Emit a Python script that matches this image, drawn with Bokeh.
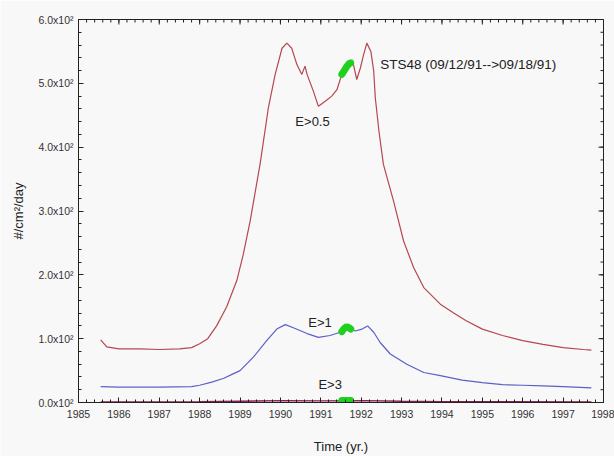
import numpy as np
from bokeh.plotting import figure
from bokeh.models import Range1d, SingleIntervalTicker, CustomJSTickFormatter
from bokeh.core.properties import value
from bokeh.embed import file_html
from bokeh.resources import INLINE

# Integral flux time series, #/cm^2/day, by energy threshold
t_e05 = [1985.55, 1985.70, 1986.00, 1986.50, 1987.00, 1987.50, 1987.80, 1988.00,
         1988.20, 1988.42, 1988.67, 1988.92, 1989.08, 1989.25, 1989.50, 1989.70,
         1989.87, 1990.04, 1990.16, 1990.28, 1990.41, 1990.53, 1990.61, 1990.66,
         1990.82, 1990.94, 1991.11, 1991.27, 1991.40, 1991.52, 1991.62, 1991.73,
         1991.81, 1991.89, 1991.98, 1992.06, 1992.14, 1992.24, 1992.31, 1992.35,
         1992.44, 1992.55, 1992.80, 1993.05, 1993.30, 1993.55, 1993.96, 1994.30,
         1994.60, 1995.00, 1995.50, 1996.00, 1996.50, 1997.00, 1997.50, 1997.70]
f_e05 = [98, 87, 84, 84, 83, 84, 86, 92,
         100, 120, 150, 191, 232, 284, 375, 461,
         514, 555, 563, 555, 529, 514, 527, 514,
         487, 464, 472, 480, 490, 514, 524, 532,
         529, 506, 524, 545, 563, 550, 519, 477,
         425, 373, 316, 253, 211, 180, 154, 140,
         128, 115, 105, 97, 91, 86, 83, 82]

t_e1 = [1985.55, 1986.00, 1987.00, 1987.80, 1988.00, 1988.30, 1988.60, 1988.80,
        1989.00, 1989.33, 1989.66, 1989.91, 1990.12, 1990.32, 1990.66, 1990.94,
        1991.23, 1991.48, 1991.65, 1991.85, 1992.02, 1992.16, 1992.31, 1992.47,
        1992.72, 1993.13, 1993.55, 1993.96, 1994.50, 1995.00, 1995.50, 1996.00,
        1996.50, 1997.00, 1997.70]
f_e1 = [25, 24, 24, 25, 27, 32, 38, 44,
        50, 71, 97, 115, 122, 117, 108, 102,
        105, 110, 119, 112, 115, 120, 110, 94,
        76, 60, 47, 42, 35, 31, 28, 27,
        26, 25, 23]

t_e3 = [1985.55, 1988.00, 1989.00, 1990.10, 1991.00, 1992.10, 1993.00, 1994.00, 1997.70]
f_e3 = [1.0, 1.2, 2.0, 3.0, 2.6, 3.0, 2.0, 1.3, 1.0]

# STS48 flight window (09/12/91 -> 09/18/91) marked on each curve
t_sts = [1991.52, 1991.58, 1991.64, 1991.70, 1991.74]
f_sts_e05 = [514, 520, 526, 531, 532]
f_sts_e1 = [111, 116, 119, 117, 115]
f_sts_e3 = [3, 3, 3, 3, 3]

sts_label = "STS48 (09/12/91-->09/18/91)"
sts_label_x = 1992.47
sts_label_y = 530
energy_labels = ["E>0.5", "E>1", "E>3"]
energy_label_x = [1990.37, 1990.69, 1990.94]
energy_label_y = [440, 125, 28]

X0, X1, Y0, Y1 = 1985, 1998, 0, 600
FONT = "Liberation Sans"
BG = "#f8f8f8"
INK = "#222222"

p = figure(width=614, height=456, x_range=Range1d(X0, X1), y_range=Range1d(Y0, Y1),
           output_backend="svg", toolbar_location=None,
           min_border_left=78, min_border_right=11, min_border_top=19, min_border_bottom=54)
p.background_fill_color = BG
p.border_fill_color = BG
p.outline_line_color = INK
p.outline_line_width = 1
p.grid.visible = False

p.xaxis.ticker = SingleIntervalTicker(interval=1, num_minor_ticks=5)
p.yaxis.ticker = SingleIntervalTicker(interval=100, num_minor_ticks=5)
p.yaxis.formatter = CustomJSTickFormatter(code="return (tick/100).toFixed(1) + 'x10\u00b2';")

for ax in (p.xaxis[0], p.yaxis[0]):
    ax.major_tick_in = 5
    ax.major_tick_out = 0
    ax.minor_tick_in = 3
    ax.minor_tick_out = 0
    ax.axis_line_color = INK
    ax.major_tick_line_color = INK
    ax.minor_tick_line_color = INK
    ax.major_label_text_font = FONT
    ax.major_label_text_font_size = "10.5px"
    ax.major_label_text_color = "#333333"
    ax.axis_label_text_font = FONT
    ax.axis_label_text_font_size = "13px"
    ax.axis_label_text_font_style = "normal"
    ax.axis_label_text_color = INK

p.xaxis.axis_label = "Time (yr.)"
p.xaxis.major_label_standoff = 7
p.xaxis.axis_label_standoff = 18
p.yaxis.axis_label = "#/cm\u00b2/day"
p.yaxis.major_label_standoff = 5
p.yaxis.axis_label_standoff = 9

# inward tick marks mirrored on the top and right frame edges
x_major = np.arange(X0, X1 + 1, 1.0)
x_minor = np.arange(X0, X1 + 1e-9, 0.2)
y_major = np.arange(Y0, Y1 + 1, 100.0)
y_minor = np.arange(Y0, Y1 + 1e-9, 20.0)
p.ray(x=x_minor, y=Y1, length=3, length_units="screen", angle=-np.pi / 2, line_color=INK, line_width=1)
p.ray(x=x_major, y=Y1, length=5, length_units="screen", angle=-np.pi / 2, line_color=INK, line_width=1)
p.ray(x=X1, y=y_minor, length=3, length_units="screen", angle=np.pi, line_color=INK, line_width=1)
p.ray(x=X1, y=y_major, length=5, length_units="screen", angle=np.pi, line_color=INK, line_width=1)

p.line(t_e05, f_e05, line_color="#b5474f", line_width=1.2)
p.line(t_e1, f_e1, line_color="#5b60c6", line_width=1.2)
p.line(t_e3, f_e3, line_color="#8a2050", line_width=1.4)

for fv in (f_sts_e05, f_sts_e1, f_sts_e3):
    p.line(t_sts, fv, line_color="#1fd01f", line_width=7, line_cap="round")

p.text([sts_label_x], [sts_label_y], text=[sts_label], text_font=value(FONT), text_font_size="13.5px",
       text_color=INK, text_baseline="middle", text_align="left")
p.text(energy_label_x, energy_label_y, text=energy_labels, text_font=value(FONT), text_font_size="13px",
       text_color=INK, text_baseline="middle", text_align="left")

open("out.html", "w").write(file_html(p, INLINE))
